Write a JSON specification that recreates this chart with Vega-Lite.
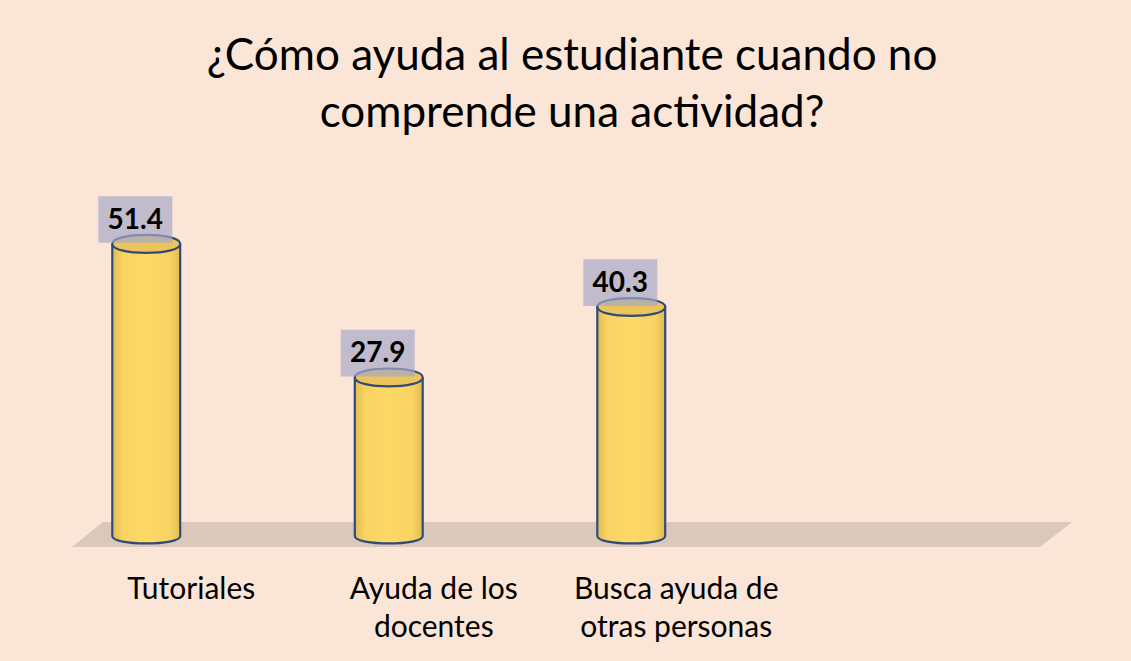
{
  "$schema": "https://vega.github.io/schema/vega-lite/v6.json",
  "autosize": {"type": "none"},
  "width": 970,
  "height": 341,
  "padding": {"left": 25, "top": 195, "right": 136, "bottom": 125},
  "background": "#FBE5D6",
  "config": {"view": {"stroke": null}},
  "title": {
    "text": ["¿Cómo ayuda al estudiante cuando no", "comprende una actividad?"],
    "font": "Lato",
    "fontSize": 44,
    "fontWeight": "normal",
    "color": "#000000",
    "lineHeight": 57,
    "anchor": "middle",
    "frame": "group",
    "baseline": "alphabetic",
    "dx": 62,
    "offset": 24
  },
  "data": {
    "values": [
      {"categoria": "Tutoriales", "valor": 51.4},
      {"categoria": "Ayuda de los docentes", "valor": 27.9},
      {"categoria": "Busca ayuda de otras personas", "valor": 40.3}
    ]
  },
  "encoding": {
    "x": {
      "field": "categoria",
      "type": "nominal",
      "sort": null,
      "scale": {
        "domain": ["Tutoriales", "Ayuda de los docentes", "Busca ayuda de otras personas", " "],
        "paddingInner": 0.72,
        "paddingOuter": 0.36
      },
      "axis": {
        "title": null,
        "labelAngle": 0,
        "labelFont": "Lato",
        "labelFontSize": 30,
        "labelColor": "#000000",
        "labelOffset": 45,
        "labelPadding": 62,
        "labelBaseline": "alphabetic",
        "labelLineHeight": 38,
        "labelLimit": 0,
        "labelOverlap": false,
        "ticks": false,
        "domain": false,
        "grid": false,
        "labelExpr": "datum.label == 'Ayuda de los docentes' ? ['Ayuda de los', 'docentes'] : datum.label == 'Busca ayuda de otras personas' ? ['Busca ayuda de', 'otras personas'] : datum.label"
      }
    },
    "y": {
      "field": "valor",
      "type": "quantitative",
      "scale": {"domain": [0, 60], "nice": false, "zero": true},
      "axis": null
    }
  },
  "layer": [
    {
      "transform": [{"filter": "datum.categoria == 'Busca ayuda de otras personas'"}],
      "mark": {
        "type": "point",
        "filled": true,
        "fill": "#D9C8BB",
        "stroke": null,
        "opacity": 1,
        "size": 1000000,
        "shape": "M-1.0565,-0.028 L0.8815,-0.028 L0.8175,0.022 L-1.1185,0.022 Z"
      },
      "encoding": {"y": {"datum": 0}}
    },
    {
      "mark": {
        "type": "bar",
        "fill": {
          "gradient": "linear", "x1": 0, "y1": 0, "x2": 1, "y2": 0,
          "stops": [
            {"offset": 0, "color": "#E2BB4F"},
            {"offset": 0.15, "color": "#F8D363"},
            {"offset": 0.5, "color": "#FFD966"},
            {"offset": 0.85, "color": "#F8D363"},
            {"offset": 1, "color": "#E2BB4F"}
          ]
        },
        "stroke": null
      }
    },
    {
      "mark": {
        "type": "point",
        "filled": true,
        "opacity": 1,
        "size": 4624,
        "shape": "M-1,0 C-1,0.29 1,0.29 1,0",
        "fill": {
          "gradient": "linear", "x1": 0, "y1": 0, "x2": 1, "y2": 0,
          "stops": [
            {"offset": 0, "color": "#E2BB4F"},
            {"offset": 0.15, "color": "#F8D363"},
            {"offset": 0.5, "color": "#FFD966"},
            {"offset": 0.85, "color": "#F8D363"},
            {"offset": 1, "color": "#E2BB4F"}
          ]
        },
        "stroke": "#2F4B7C",
        "strokeWidth": 2.2
      },
      "encoding": {"y": {"datum": 0}}
    },
    {
      "mark": {"type": "rule", "color": "#2F4B7C", "strokeWidth": 2.2},
      "encoding": {
        "x": {"field": "categoria", "type": "nominal", "bandPosition": 0},
        "y": {"field": "valor", "type": "quantitative"},
        "y2": {"datum": 0}
      }
    },
    {
      "mark": {"type": "rule", "color": "#2F4B7C", "strokeWidth": 2.2},
      "encoding": {
        "x": {"field": "categoria", "type": "nominal", "bandPosition": 1},
        "y": {"field": "valor", "type": "quantitative"},
        "y2": {"datum": 0}
      }
    },
    {
      "mark": {
        "type": "point",
        "filled": true,
        "opacity": 1,
        "size": 4624,
        "shape": "M-1,0 C-1,-0.35 1,-0.35 1,0 C1,0.35 -1,0.35 -1,0 Z",
        "fill": "#EBC55B",
        "stroke": "#2F4B7C",
        "strokeWidth": 2.2
      }
    },
    {
      "mark": {
        "type": "point",
        "filled": true,
        "opacity": 0.68,
        "size": 4624,
        "shape": "M-1.41,-1.4 L0.765,-1.4 L0.765,-0.03 L-1.41,-0.03 Z",
        "fill": "#A4A8C8",
        "stroke": null
      }
    },
    {
      "mark": {
        "type": "text",
        "font": "Lato",
        "fontSize": 28,
        "fontWeight": "bold",
        "color": "#000000",
        "baseline": "middle",
        "align": "center",
        "dx": -11,
        "dy": -23
      },
      "encoding": {"text": {"field": "valor", "type": "quantitative", "format": ".1f"}}
    }
  ]
}
